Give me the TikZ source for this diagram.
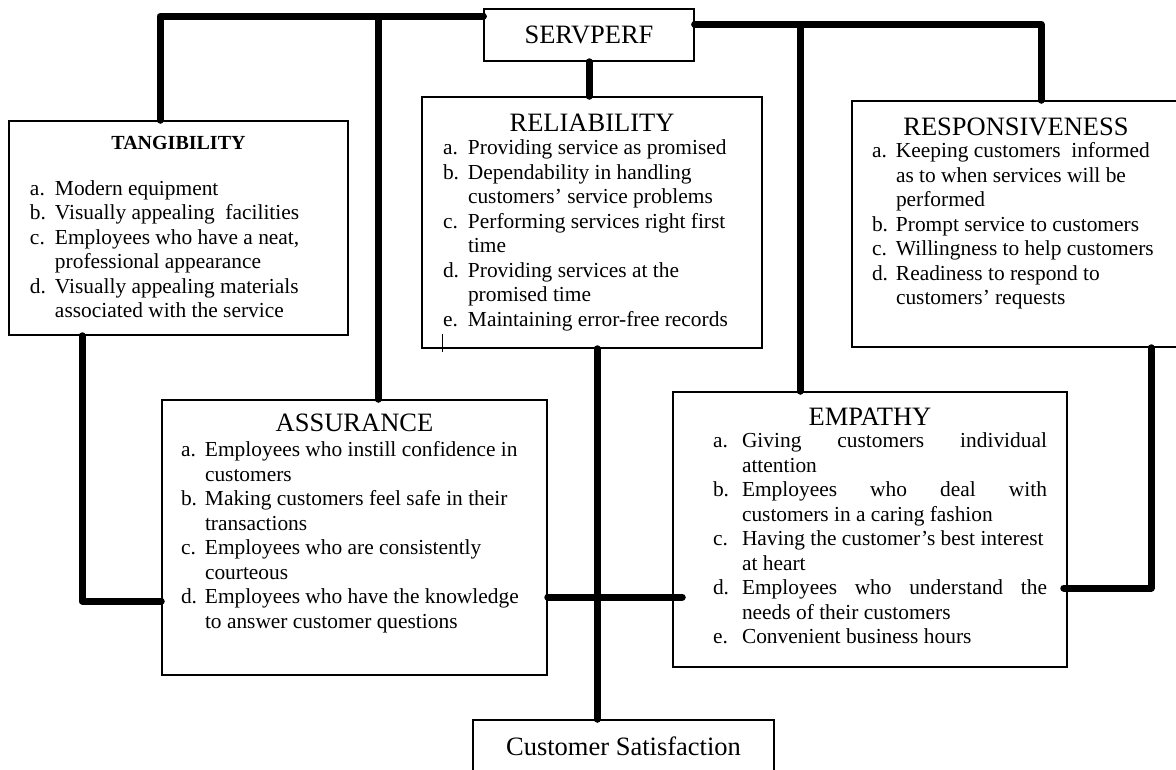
\documentclass[tikz,border=0pt]{standalone}
\usepackage{fontspec}
\setmainfont{Liberation Serif}
\usepackage{tikz}

\newcommand{\ttlfont}{\fontsize{26.5}{30}\selectfont}
\newcommand{\itmfont}{\fontsize{21.4}{24.5}\selectfont}
\newcommand{\titleline}[2]{{\centering\rule{0pt}{#1}#2\par}}
\newcommand{\itemlist}[3]{\itmfont\hspace*{#1}\begin{tabular}[t]{@{}p{#2}@{}l@{}}#3\end{tabular}}

\begin{document}
\begin{tikzpicture}[x=1pt,y=-1pt,
		box/.style={draw, line width=1.5pt, fill=white, inner sep=0pt},
		link/.style={line width=7pt, line cap=round, line join=round}]
		\useasboundingbox (0,0) rectangle (1176,769);

		\node[box] (servperf) at (589,35) {\parbox[c][52pt][t]{210pt}{\ttlfont\titleline{34.7pt}{SERVPERF}}};

		\node[box] (tang) at (178.5,228) {\parbox[c][214pt][t]{339pt}{%
			\titleline{28.6pt}{\fontsize{20}{24}\selectfont\bfseries TANGIBILITY}\vspace{21pt}
			\itemlist{21pt}{25pt}{a. & Modern equipment\\
				b. & Visually appealing\ \ facilities\\
				c. & Employees who have a neat,\\
				 & professional appearance\\
				d. & Visually appealing materials\\
				 & associated with the service}}};

		\node[box] (rel) at (592,222.5) {\parbox[c][251pt][t]{340pt}{%
			\titleline{34.7pt}{\ttlfont RELIABILITY}\vspace{-1.5pt}
			\itemlist{21pt}{25pt}{a. & Providing service as promised\\
				b. & Dependability in handling\\
				 & customers’ service problems\\
				c. & Performing services right first\\
				 & time\\
				d. & Providing services at the\\
				 & promised time\\
				e. & Maintaining error-free records}}};

		\node[box] (resp) at (1016,224) {\parbox[c][246pt][t]{328pt}{%
			\titleline{34.7pt}{\ttlfont RESPONSIVENESS}\vspace{-2.5pt}
			\itemlist{20pt}{24pt}{a. & Keeping customers\ \ informed\\
				 & as to when services will be\\
				 & performed\\
				b. & Prompt service to customers\\
				c. & Willingness to help customers\\
				d. & Readiness to respond to\\
				 & customers’ requests}}};

		\node[box] (assur) at (354.5,537.5) {\parbox[c][275pt][t]{385pt}{%
			\titleline{31.7pt}{\ttlfont ASSURANCE}\vspace{0.5pt}
			\itemlist{19pt}{24pt}{a. & Employees who instill confidence in\\
				 & customers\\
				b. & Making customers feel safe in their\\
				 & transactions\\
				c. & Employees who are consistently\\
				 & courteous\\
				d. & Employees who have the knowledge\\
				 & to answer customer questions}}};

		\node[box] (emp) at (870,529.5) {\parbox[c][275pt][t]{394pt}{%
			\titleline{33.7pt}{\ttlfont EMPATHY}\vspace{-2.5pt}
			\itemlist{40pt}{29pt}{a. & \makebox[305pt][s]{Giving customers individual}\\
				 & attention\\
				b. & \makebox[305pt][s]{Employees who deal with}\\
				 & customers in a caring fashion\\
				c. & Having the customer’s best interest\\
				 & at heart\\
				d. & \makebox[305pt][s]{Employees who understand the}\\
				 & needs of their customers\\
				e. & Convenient business hours}}};

		\node[box] (cs) at (623.5,770) {\parbox[c][100pt][t]{301pt}{\ttlfont\titleline{35pt}{Customer Satisfaction}}};

		\draw [link] ([yshift=-8pt]servperf.north west) -| ([xshift=-18.5pt]tang.north);
		\draw [link] ([xshift=23.5pt]assur.north) |- ([yshift=-8pt]servperf.north west);
		\draw [link] ([yshift=-16pt]servperf.north east) -| ([xshift=25pt]resp.north);
		\draw [link] ([xshift=-70pt]emp.north) |- ([yshift=-16pt]servperf.north east);
		\draw [link] (servperf.south) -- (servperf.south |- rel.north);
		\draw [link] ([xshift=5pt]rel.south) -- ([xshift=-26.5pt]cs.north);
		\draw [link] ([xshift=-96.5pt]tang.south) |- ([yshift=-63.5pt]assur.west);
		\draw [link] ([yshift=-59.5pt]assur.east) -- ([xshift=10pt,yshift=-67.5pt]emp.west);
		\draw [link] ([xshift=135pt]resp.south) |- ([xshift=-4pt,yshift=-58.5pt]emp.east);
		\draw [line width=0.8pt] ([xshift=21pt,yshift=15pt]rel.south west) -- ([xshift=21pt,yshift=-3pt]rel.south west);
	\end{tikzpicture}
\end{document}
